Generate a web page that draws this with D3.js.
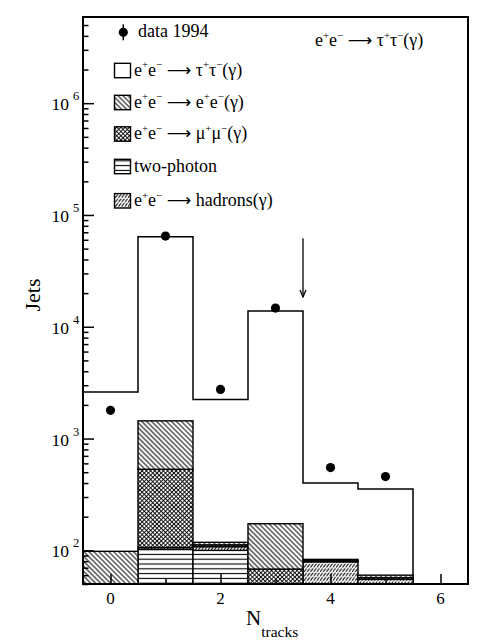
<!DOCTYPE html>
<html>
<head>
<meta charset="utf-8">
<script src="https://cdn.jsdelivr.net/npm/d3@7/dist/d3.min.js"></script>
<style>
  html, body { margin: 0; padding: 0; background: #fff; }
  svg { display: block; }
  text { font-family: "Liberation Serif", "Times New Roman", "DejaVu Serif", serif; fill: #000; }
</style>
</head>
<body>
<svg id="chart" width="483" height="643"></svg>
<script>
// ---------------- data ----------------
const bins        = [0, 1, 2, 3, 4, 5];
const data1994    = [1790, 64700, 2750, 14700, 550, 457];
const tauTotal    = [2610, 63800, 2235, 13870, 401, 354];   // total MC (tau on top)
const twoPhoton   = [10, 102, 100, 20, 15, 10];
const hadrons     = [2, 4, 8, 20, 64, 45];
const mumu        = [5, 425, 4, 28, 2, 2];
const eeBhabha    = [81, 909, 6, 105, 2, 3];
const xTickMajor  = [0, 2, 4, 6];
const xTickMinor  = [1, 3, 5];
const yTickExps   = [2, 3, 4, 5, 6];
const cutArrow    = { x: 3.5, from: 62000, to: 18500 };
const legendLabels = [
  "data 1994",
  "e^{+}e^{\u2212} \u2192 \u03C4^{+}\u03C4^{\u2212}(\u03B3)",
  "e^{+}e^{\u2212} \u2192 e^{+}e^{\u2212}(\u03B3)",
  "e^{+}e^{\u2212} \u2192 \u03BC^{+}\u03BC^{\u2212}(\u03B3)",
  "two-photon",
  "e^{+}e^{\u2212} \u2192 hadrons(\u03B3)"
];
const topLabel = "e^{+}e^{\u2212} \u2192 \u03C4^{+}\u03C4^{\u2212}(\u03B3)";

// ---------------- setup ----------------
const svg = d3.select("#chart");
const L = 83, R = 468, T = 17, B = 584;
const x = d3.scaleLinear().domain([-0.5, 6.5]).range([L, R]);
const y = d3.scaleLog().domain([50, 5.9e6]).range([B, T]);
const yMin = y.domain()[0];

// patterns
const defs = svg.append("defs");
function hatch(id, spacing, angle, sw) {
  const p = defs.append("pattern").attr("id", id).attr("patternUnits", "userSpaceOnUse")
    .attr("width", spacing).attr("height", 10).attr("patternTransform", `rotate(${angle})`);
  p.append("rect").attr("width", spacing).attr("height", 10).attr("fill", "#fff");
  p.append("line").attr("x1", spacing / 2).attr("x2", spacing / 2).attr("y1", 0).attr("y2", 10)
    .attr("stroke", "#000").attr("stroke-width", sw);
}
hatch("pEE", 3.5, -45, 1.0);
// cross hatch
{
  const s = 3.0;
  const p = defs.append("pattern").attr("id", "pMM").attr("patternUnits", "userSpaceOnUse")
    .attr("width", s).attr("height", s).attr("patternTransform", "rotate(45)");
  p.append("rect").attr("width", s).attr("height", s).attr("fill", "#fff");
  p.append("line").attr("x1", s / 2).attr("x2", s / 2).attr("y1", 0).attr("y2", s).attr("stroke", "#000").attr("stroke-width", 0.9);
  p.append("line").attr("y1", s / 2).attr("y2", s / 2).attr("x1", 0).attr("x2", s).attr("stroke", "#000").attr("stroke-width", 0.9);
}
// horizontal lines
{
  const p = defs.append("pattern").attr("id", "pGG").attr("patternUnits", "userSpaceOnUse")
    .attr("width", 10).attr("height", 4.8);
  p.append("rect").attr("width", 10).attr("height", 4.8).attr("fill", "#fff");
  p.append("line").attr("x1", 0).attr("x2", 10).attr("y1", 2.4).attr("y2", 2.4).attr("stroke", "#000").attr("stroke-width", 1.1);
}
// hadrons: steep /// with horizontal breaks
{
  const w = 3.2, h = 4.4;
  const p = defs.append("pattern").attr("id", "pHD").attr("patternUnits", "userSpaceOnUse")
    .attr("width", w).attr("height", h);
  p.append("rect").attr("width", w).attr("height", h).attr("fill", "#fff");
  p.append("path").attr("d", `M0,${h} L${w},0`).attr("stroke", "#000").attr("stroke-width", 1.0);
  p.append("line").attr("x1", 0).attr("x2", w).attr("y1", 0.3).attr("y2", 0.3).attr("stroke", "#fff").attr("stroke-width", 0.7);
}

const clip = defs.append("clipPath").attr("id", "plotClip");
clip.append("rect").attr("x", L).attr("y", T).attr("width", R - L).attr("height", B - T);

const plot = svg.append("g").attr("clip-path", "url(#plotClip)");

// ---------------- tau (total MC) step outline ----------------
const stepPts = [];
bins.forEach((b, i) => {
  stepPts.push([x(b - 0.5), y(tauTotal[i])]);
  stepPts.push([x(b + 0.5), y(tauTotal[i])]);
});
stepPts.push([x(bins[bins.length - 1] + 0.5), y(yMin)]);
plot.append("path")
  .attr("d", d3.line()(stepPts))
  .attr("fill", "none").attr("stroke", "#000").attr("stroke-width", 1.5);

// ---------------- stacked backgrounds ----------------
const table = bins.map((b, i) => ({
  bin: b, twoPhoton: twoPhoton[i], hadrons: hadrons[i], mumu: mumu[i], ee: eeBhabha[i]
}));
const keys = ["twoPhoton", "hadrons", "mumu", "ee"];
const fills = { twoPhoton: "url(#pGG)", hadrons: "url(#pHD)", mumu: "url(#pMM)", ee: "url(#pEE)" };
const series = d3.stack().keys(keys)(table);
series.forEach(s => {
  plot.append("g").selectAll("rect")
    .data(s.filter(d => d[1] > yMin))
    .join("rect")
    .attr("x", d => x(d.data.bin - 0.5))
    .attr("width", d => x(d.data.bin + 0.5) - x(d.data.bin - 0.5))
    .attr("y", d => y(d[1]))
    .attr("height", d => y(Math.max(d[0], yMin)) - y(d[1]))
    .attr("fill", fills[s.key])
    .attr("stroke", "#000").attr("stroke-width", 1.4);
});

// ---------------- data points ----------------
plot.append("g").selectAll("circle")
  .data(bins.map((b, i) => [b, data1994[i]]))
  .join("circle")
  .attr("cx", d => x(d[0])).attr("cy", d => y(d[1])).attr("r", 4.6).attr("fill", "#000");

// ---------------- cut arrow ----------------
{
  const ax = x(cutArrow.x), y1 = y(cutArrow.from), y2 = y(cutArrow.to);
  svg.append("line").attr("x1", ax).attr("x2", ax).attr("y1", y1).attr("y2", y2)
    .attr("stroke", "#000").attr("stroke-width", 1.3);
  svg.append("path").attr("d", `M${ax - 3},${y2 - 7} L${ax},${y2} L${ax + 3},${y2 - 7}`)
    .attr("fill", "none").attr("stroke", "#000").attr("stroke-width", 1.3);
}

// ---------------- axes ----------------
const minorY = [];
for (let e = 1; e <= 6; e++) for (let m = 2; m <= 9; m++) {
  const v = m * Math.pow(10, e);
  if (v >= yMin && v <= y.domain()[1]) minorY.push(v);
}
const axL1 = svg.append("g").attr("transform", `translate(${L},0)`)
  .call(d3.axisLeft(y).tickValues(yTickExps.map(e => Math.pow(10, e))).tickSize(-11).tickFormat(""));
const axL2 = svg.append("g").attr("transform", `translate(${L},0)`)
  .call(d3.axisLeft(y).tickValues(minorY).tickSize(-5.5).tickFormat(""));
const axB1 = svg.append("g").attr("transform", `translate(0,${B})`)
  .call(d3.axisBottom(x).tickValues(xTickMajor).tickSize(-10).tickFormat(""));
const axB2 = svg.append("g").attr("transform", `translate(0,${B})`)
  .call(d3.axisBottom(x).tickValues(xTickMinor).tickSize(-5).tickFormat(""));
[axL1, axL2, axB1, axB2].forEach(a => {
  a.select(".domain").remove();
  a.selectAll(".tick line").attr("stroke", "#000").attr("stroke-width", 1.5);
});

// frame
svg.append("rect").attr("x", L).attr("y", T).attr("width", R - L).attr("height", B - T)
  .attr("fill", "none").attr("stroke", "#000").attr("stroke-width", 2);

// y tick labels 10^n
yTickExps.forEach(e => {
  const yy = y(Math.pow(10, e));
  svg.append("text").attr("x", 69).attr("y", yy + 7).attr("text-anchor", "end")
    .attr("font-size", 17.5).text("10");
  svg.append("text").attr("x", 73).attr("y", yy - 3).attr("font-size", 12.5).text(String(e));
});
// x tick labels
xTickMajor.forEach(v => {
  svg.append("text").attr("x", x(v)).attr("y", 603.5).attr("text-anchor", "middle")
    .attr("font-size", 17).text(String(v));
});

// rich text helper: "^{...}" marks superscripts; the reaction arrow is drawn long
function rich(sel, str, size) {
  const parts = str.split(/(\^\{[^}]*\}|\u2192)/).filter(s => s.length);
  let shift = 0;
  parts.forEach(p => {
    const sup = p.startsWith("^{");
    const txt = sup ? p.slice(2, -1) : p;
    const target = sup ? -0.4 * size : 0;
    const ts = sel.append("tspan").attr("dy", target - shift)
      .attr("font-size", sup ? size * 0.6 : size).text(txt);
    if (p === "\u2192") {
      ts.text("\u27F6").attr("font-family", "DejaVu Sans").attr("font-size", size * 0.95);
    }
    shift = target;
  });
}

// axis titles
svg.append("text").attr("transform", "translate(40,295) rotate(-90)")
  .attr("text-anchor", "middle").attr("font-size", 22).text("Jets");
{
  const t = svg.append("text").attr("x", 246).attr("y", 625);
  t.append("tspan").attr("font-size", 21).text("N");
  t.append("tspan").attr("font-size", 15.5).attr("dy", 12).text("tracks");
}

// top-right label
rich(svg.append("text").attr("x", 315).attr("y", 46), topLabel, 18);

// ---------------- legend ----------------
const legendRows = [32.3, 70.5, 102.5, 134, 166.5, 200.8];
const legendFills = [null, "#fff", "url(#pEE)", "url(#pMM)", "url(#pGG)", "url(#pHD)"];
legendRows.forEach((ry, i) => {
  if (i === 0) {
    svg.append("line").attr("x1", 123.3).attr("x2", 123.3).attr("y1", ry - 8).attr("y2", ry + 8)
      .attr("stroke", "#000").attr("stroke-width", 1.5);
    svg.append("circle").attr("cx", 123.3).attr("cy", ry).attr("r", 4.6).attr("fill", "#000");
    rich(svg.append("text").attr("x", 138).attr("y", ry + 5), legendLabels[i], 18);
  } else {
    svg.append("rect").attr("x", 114.5).attr("y", ry - 7.2).attr("width", 16).attr("height", 14.4)
      .attr("fill", legendFills[i]).attr("stroke", "#000").attr("stroke-width", 1.4);
    rich(svg.append("text").attr("x", 134).attr("y", ry + 5), legendLabels[i], 18);
  }
});
</script>
</body>
</html>
